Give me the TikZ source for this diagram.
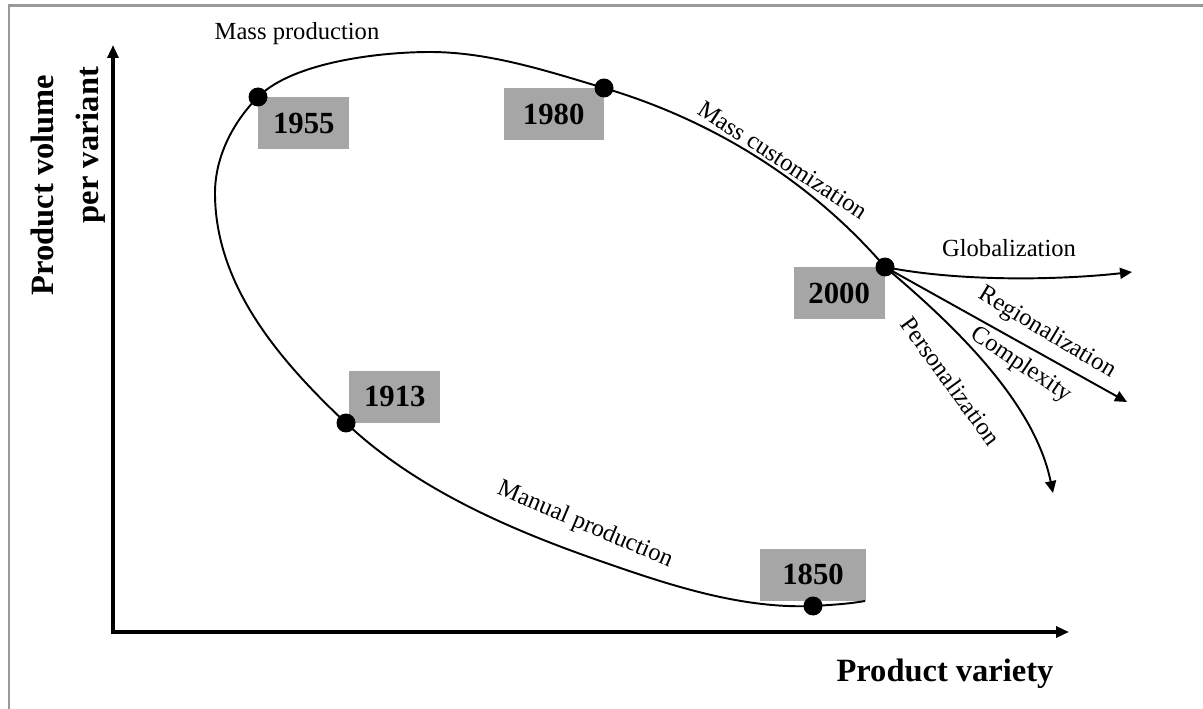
\documentclass[tikz,border=0pt]{standalone}
\usepackage{fontspec}
\setmainfont{Liberation Serif}
\usetikzlibrary{arrows.meta}
\definecolor{boxgray}{HTML}{A6A6A6}
\definecolor{framegray}{HTML}{9A9A9A}

\begin{document}
\begin{tikzpicture}[x=0.02cm, y=-0.02cm,
  frame/.style={draw=framegray, line width=1.3pt},
  axis/.style={line width=1.8pt,
    {Triangle[length=2.6mm,width=2.2mm]}-{Triangle[length=2.6mm,width=2.2mm]}},
  era/.style={line width=1.1pt},
  trend/.style={line width=1.1pt, -{Triangle[length=2.4mm,width=2.2mm]}},
  yearbox/.style={fill=boxgray, inner sep=0pt, minimum width=1.82cm,
    minimum height=1.04cm, font=\fontsize{17.5}{20}\selectfont\bfseries},
  yeardot/.style={circle, fill=black, inner sep=0pt, minimum size=3.8mm},
  lbl/.style={font=\fontsize{14}{17}\selectfont, inner sep=0pt},
  axislbl/.style={font=\fontsize{18.5}{22}\selectfont\bfseries, inner sep=0pt}]

\useasboundingbox (0,0) rectangle (1203,709);

% outer frame (top and left edges)
\coordinate (fbl) at (8.8,709);
\coordinate (ftl) at (8.8,5.5);
\coordinate (ftr) at (1203,5.5);
\draw[frame] (fbl) -- (ftl) -- (ftr);

% axes
\coordinate (origin) at (113,632);
\coordinate (ytip) at (113,45);
\coordinate (xtip) at (1069,632);
\draw[axis] (ytip) -- (origin) -- (xtip);

\node[axislbl, anchor=base] (xlab) at (945,681) {Product variety};
\node[axislbl, rotate=90, anchor=base] (ylab1) at (53,185) {Product volume};
\node[axislbl, rotate=90, anchor=base] (ylab2) at (98,145) {per variant};

% milestones on the cycle
\coordinate (d1850) at (813,606);
\coordinate (d1913) at (346,423);
\coordinate (d1955) at (258,97);
\coordinate (d1980) at (604,88);
\coordinate (d2000) at (885,267);
\coordinate (cstart) at (865,601);
\coordinate (cbot) at (606,563);
\coordinate (cleft) at (215,193);
\coordinate (ctop) at (430,52);

\node[yearbox, anchor=north west] (y1955) at (d1955) {1955};
\node[yearbox, anchor=north east, minimum width=2.0cm] (y1980) at (d1980) {1980};
\node[yearbox, anchor=north east] (y2000) at (d2000) {2000};
\node[yearbox, anchor=south west, xshift=3*0.02cm] (y1913) at (d1913) {1913};
\node[yearbox, anchor=south, minimum width=2.12cm, yshift=5*0.02cm] (y1850) at (d1850) {1850};

% the production cycle
\draw[era] (cstart)
  .. controls (848,604) and (830,605) .. (d1850)
  .. controls (743,609) and (672,586) .. (cbot)
  .. controls (513,531) and (417,490) .. (d1913)
  .. controls (279,360) and (215,285) .. (cleft)
  .. controls (215,157) and (233,122) .. (d1955)
  .. controls (293,62) and (380,52) .. (ctop)
  .. controls (489,52) and (547,71) .. (d1980)
  .. controls (712,120) and (811,181) .. (d2000);

% trends after 2000
\coordinate (gtip) at (1132,272);
\coordinate (rtip) at (1127,402);
\coordinate (ptip) at (1053,493);
\draw[trend] (d2000) .. controls (960,282) and (1060,280) .. (gtip);
\draw[trend] (d2000) -- (rtip);
\draw[trend] (d2000) .. controls (960,330) and (1035,405) .. (ptip);

% dots
\foreach \d in {d1850,d1913,d1955,d1980,d2000}
  \node[yeardot] (dot-\d) at (\d) {};

% labels
\node[lbl, anchor=base] (lmass) at (297,40) {Mass production};
\node[lbl, rotate=-33] (lcust) at (783,160) {Mass customization};
\node[lbl, rotate=-23] (lman) at (585,525) {Manual production};
\node[lbl, anchor=base] (lglob) at (1009,257) {Globalization};
\node[lbl, rotate=-31] (lreg) at (1047,333) {Regionalization};
\node[lbl, rotate=-34] (lcomp) at (1021,365) {Complexity};
\node[lbl, rotate=-54] (lpers) at (951,381) {Personalization};

\end{tikzpicture}
\end{document}
